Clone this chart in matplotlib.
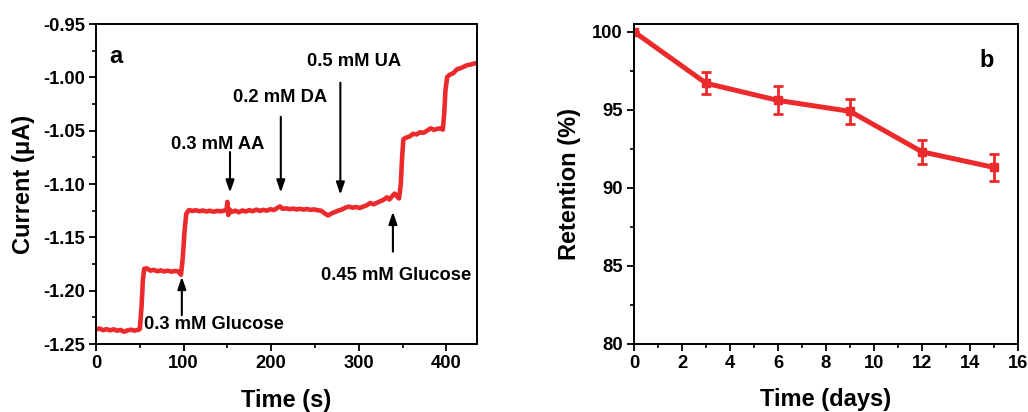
import matplotlib
matplotlib.use("Agg")
import matplotlib.pyplot as plt
from matplotlib.ticker import MultipleLocator

plt.rcParams['font.family'] = ['Liberation Sans', 'DejaVu Sans']
plt.rcParams['font.weight'] = 'bold'

RED = '#EC2A2C'

# --- (a) amperometric response ---
time_s = [0, 4, 8, 12, 16, 20, 24, 28, 32, 36, 40, 44, 48,
          50, 52, 53.5, 55, 58, 62, 66, 70, 74, 78, 82, 86, 90, 94, 97,
          99, 101, 103, 106, 110, 114, 118, 122, 126, 130, 134, 138, 142, 146,
          149, 150, 151, 152, 155, 159, 163, 167, 171, 175, 179, 183, 187, 191,
          195, 199, 203, 207, 210, 213, 217, 221, 225, 229, 233, 237, 241, 245,
          249, 253, 257, 261, 265, 269, 273, 277, 281, 285, 289, 293, 297, 301,
          305, 309, 313, 317, 321, 325, 329, 332, 335, 338, 341, 344, 346,
          348, 349.5, 351, 354, 358, 362, 366, 370, 374, 378, 382, 386, 390,
          394, 396, 397.5, 399, 401, 404, 408, 412, 416, 420, 424, 428, 432, 435]
current_uA = [-1.2365, -1.2355, -1.2370, -1.2360, -1.2372, -1.2362, -1.2375, -1.2368,
              -1.2385, -1.2372, -1.2366, -1.2374, -1.2368,
              -1.2360, -1.2150, -1.1900, -1.1795, -1.1790, -1.1812, -1.1805, -1.1818,
              -1.1810, -1.1820, -1.1812, -1.1822, -1.1815, -1.1820, -1.1850,
              -1.1700, -1.1450, -1.1280, -1.1244, -1.1252, -1.1246, -1.1255, -1.1248,
              -1.1258, -1.1250, -1.1260, -1.1252, -1.1256, -1.1250,
              -1.1240, -1.1168, -1.1290, -1.1235, -1.1262, -1.1250, -1.1265, -1.1248,
              -1.1258, -1.1245, -1.1255, -1.1240, -1.1252, -1.1242,
              -1.1250, -1.1236, -1.1244, -1.1225, -1.1210, -1.1232, -1.1228, -1.1236,
              -1.1230, -1.1238, -1.1232, -1.1240, -1.1234, -1.1242,
              -1.1238, -1.1246, -1.1250, -1.1275, -1.1295, -1.1275, -1.1262, -1.1248,
              -1.1238, -1.1220, -1.1212, -1.1222, -1.1215, -1.1225,
              -1.1212, -1.1200, -1.1178, -1.1190, -1.1175, -1.1160, -1.1145, -1.1125,
              -1.1145, -1.1115, -1.1090, -1.1120, -1.1135,
              -1.1000, -1.0750, -1.0580, -1.0565, -1.0555, -1.0530, -1.0535, -1.0515,
              -1.0520, -1.0500, -1.0478, -1.0492, -1.0482,
              -1.0478, -1.0490, -1.0350, -1.0120, -0.9995, -0.9975, -0.9960, -0.9925,
              -0.9915, -0.9900, -0.9885, -0.9880, -0.9870, -0.9868]

# additions: label, arrow x, arrow tail y, arrow head y, text x, text y
add_labels = ['0.3 mM Glucose', '0.3 mM AA', '0.2 mM DA', '0.5 mM UA', '0.45 mM Glucose']
add_x = [98, 153, 211, 279, 339]
add_tail = [-1.223, -1.070, -1.037, -1.005, -1.1634]
add_head = [-1.187, -1.108, -1.108, -1.110, -1.126]
label_x = [55, 138.6, 209.6, 295, 343]
label_y = [-1.232, -1.0625, -1.0187, -0.985, -1.186]
label_ha = ['left', 'center', 'center', 'center', 'center']

# --- (b) stability ---
days = [0, 3, 6, 9, 12, 15]
retention = [100.0, 96.7, 95.6, 94.9, 92.3, 91.3]
retention_err = [0.0, 0.7, 0.9, 0.8, 0.75, 0.85]

fig = plt.figure(figsize=(10.28, 4.12), dpi=100)
ax_a = fig.add_axes([0.0934, 0.165, 0.3706, 0.7767])
ax_b = fig.add_axes([0.6168, 0.166, 0.3735, 0.7757])

ax_a.plot(time_s, current_uA, color=RED, lw=3.3, solid_joinstyle='round')
for lab, x, y0, y1, tx, ty, ha in zip(add_labels, add_x, add_tail, add_head,
                                      label_x, label_y, label_ha):
    ax_a.annotate('', xy=(x, y1), xytext=(x, y0),
                  arrowprops=dict(arrowstyle='-|>,head_length=0.52,head_width=0.18',
                                  color='black', lw=1.5,
                                  mutation_scale=14, shrinkA=0, shrinkB=0))
    ax_a.text(tx, ty, lab, ha=ha, va='center', fontsize=13.2, fontweight='bold')
ax_a.text(23, -0.980, 'a', ha='center', va='center', fontsize=17, fontweight='bold')

ax_a.set_xlim(0, 435)
ax_a.set_ylim(-1.25, -0.95)
ax_a.xaxis.set_major_locator(MultipleLocator(100))
ax_a.xaxis.set_minor_locator(MultipleLocator(50))
ax_a.yaxis.set_major_locator(MultipleLocator(0.05))
ax_a.yaxis.set_minor_locator(MultipleLocator(0.025))
ax_a.yaxis.set_major_formatter(plt.FuncFormatter(lambda v, p: f'{v:.2f}'))
ax_a.set_xlabel('Time (s)', fontsize=17, fontweight='bold', labelpad=12)
ax_a.set_ylabel('Current (\u03bcA)', fontsize=17, fontweight='bold', labelpad=6)

ax_b.errorbar(days, retention, yerr=retention_err, color=RED, lw=3.6,
              marker='s', markersize=6, elinewidth=2.0, capsize=3.5, capthick=2.0)
ax_b.text(14.7, 98.15, 'b', ha='center', va='center', fontsize=17, fontweight='bold')
ax_b.set_xlim(0, 16)
ax_b.set_ylim(80, 100.5)
ax_b.xaxis.set_major_locator(MultipleLocator(2))
ax_b.xaxis.set_minor_locator(MultipleLocator(1))
ax_b.yaxis.set_major_locator(MultipleLocator(5))
ax_b.yaxis.set_minor_locator(MultipleLocator(2.5))
ax_b.set_xlabel('Time (days)', fontsize=17, fontweight='bold', labelpad=12)
ax_b.set_ylabel('Retention (%)', fontsize=17, fontweight='bold', labelpad=8)

for ax in (ax_a, ax_b):
    for sp in ax.spines.values():
        sp.set_linewidth(1.4)
    ax.tick_params(which='major', direction='out', length=5, width=1.3,
                   labelsize=13.2, pad=3)
    ax.tick_params(which='minor', direction='out', length=3, width=1.2)
    ax.tick_params(top=False, right=False, which='both')
    for lbl in ax.get_xticklabels() + ax.get_yticklabels():
        lbl.set_fontweight('bold')

fig.savefig('out.png', dpi=100)
